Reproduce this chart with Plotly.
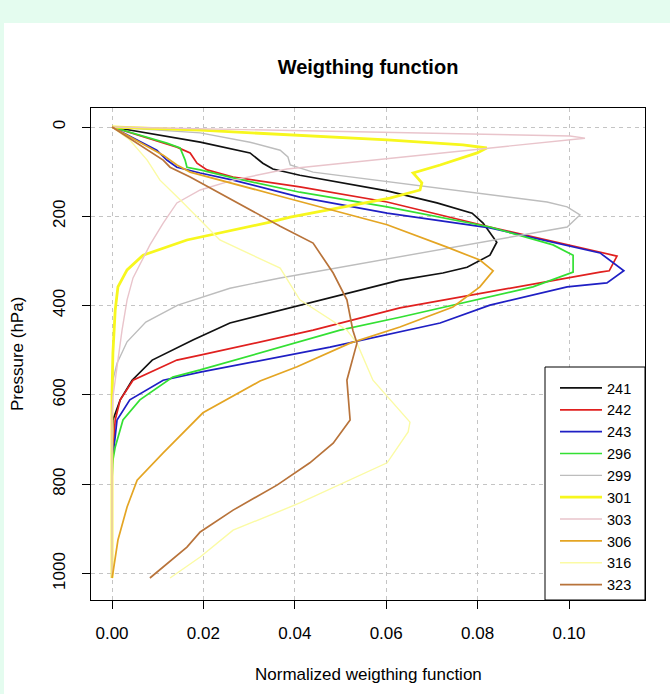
import plotly.graph_objects as go

channels = ["241", "242", "243", "296", "299", "301", "303", "306", "316", "323"]
colors = ["#111111", "#e0201f", "#1f1fc4", "#33e033", "#bdbdbd", "#f7f71e",
          "#e9c4cb", "#e4a523", "#fbfba4", "#b8733a"]
widths = [1.7, 1.7, 1.7, 1.7, 1.4, 2.8, 1.4, 1.7, 1.4, 1.7]

p_241 = [0, 34, 58, 81, 94, 108, 143, 170, 193, 215, 258, 287, 314, 327, 343, 383, 403, 439, 477, 522, 567, 611, 656, 700, 1010]
w_241 = [0, 0.0193, 0.0302, 0.0330, 0.0352, 0.0411, 0.0602, 0.0711, 0.0788, 0.0812, 0.0842, 0.0827, 0.0777, 0.0724, 0.0630, 0.0477, 0.0396, 0.0258, 0.0177, 0.0088, 0.0044, 0.0018, 0.0002, 0, 0]

p_242 = [0, 45, 58, 81, 96, 112, 134, 168, 224, 280, 289, 322, 325, 405, 455, 511, 522, 567, 611, 656, 717, 760, 1010]
w_242 = [0, 0.0142, 0.0171, 0.0186, 0.0208, 0.0265, 0.0411, 0.0602, 0.0827, 0.1068, 0.1105, 0.1088, 0.1068, 0.0630, 0.0440, 0.0193, 0.0142, 0.0046, 0.0018, 0.0007, 0.0002, 0, 0]

p_243 = [0, 52, 74, 90, 103, 119, 157, 193, 226, 282, 322, 349, 358, 399, 439, 459, 493, 549, 567, 611, 656, 694, 750, 1010]
w_243 = [0, 0.0098, 0.0120, 0.0142, 0.0193, 0.0265, 0.0411, 0.0602, 0.0827, 0.1068, 0.1120, 0.1083, 0.0996, 0.0827, 0.0718, 0.0630, 0.0477, 0.0193, 0.0112, 0.0039, 0.0011, 0.0007, 0, 0]

p_296 = [0, 36, 47, 74, 90, 96, 114, 146, 179, 224, 264, 287, 325, 336, 358, 426, 455, 544, 560, 611, 656, 717, 746, 790, 1010]
w_296 = [0, 0.0120, 0.0149, 0.0160, 0.0164, 0.0193, 0.0265, 0.0411, 0.0602, 0.0827, 0.0965, 0.1009, 0.1009, 0.0980, 0.0921, 0.0630, 0.0499, 0.0193, 0.0133, 0.0061, 0.0024, 0.0007, 0.0002, 0, 0]

p_299 = [0, 13, 34, 52, 67, 85, 101, 168, 179, 197, 224, 291, 338, 361, 399, 437, 481, 529, 567, 620, 1010]
w_299 = [0, 0.0193, 0.0302, 0.0368, 0.0385, 0.0390, 0.0440, 0.0952, 0.0996, 0.1024, 0.0996, 0.0630, 0.0368, 0.0258, 0.0144, 0.0074, 0.0033, 0.0011, 0.0002, 0, 0]

p_301 = [0, 7, 29, 40, 47, 58, 85, 103, 125, 141, 159, 202, 213, 253, 287, 320, 358, 410, 506, 600, 1010]
w_301 = [0, 0.0193, 0.0602, 0.0768, 0.0820, 0.0799, 0.0718, 0.0659, 0.0678, 0.0674, 0.0608, 0.0390, 0.0346, 0.0164, 0.0068, 0.0033, 0.0013, 0.0007, 0.0002, 0, 0]

p_303 = [0, 7, 20, 25, 49, 90, 94, 119, 141, 170, 215, 264, 338, 387, 455, 522, 605, 650, 1010]
w_303 = [0, 0.0368, 0.1002, 0.1035, 0.0805, 0.0411, 0.0383, 0.0265, 0.0193, 0.0142, 0.0112, 0.0083, 0.0046, 0.0033, 0.0022, 0.0013, 0.0002, 0, 0]

p_306 = [0, 63, 85, 101, 155, 219, 269, 298, 322, 358, 403, 448, 484, 537, 569, 640, 730, 791, 851, 925, 999, 1010]
w_306 = [0, 0.0112, 0.0142, 0.0171, 0.0368, 0.0602, 0.0733, 0.0805, 0.0834, 0.0805, 0.0746, 0.0630, 0.0521, 0.0405, 0.0324, 0.0199, 0.0112, 0.0055, 0.0033, 0.0013, 0.0002, 0]

p_316 = [0, 29, 74, 119, 163, 253, 316, 387, 455, 484, 567, 661, 683, 752, 842, 903, 963, 1010]
w_316 = [0, 0.0039, 0.0077, 0.0105, 0.0149, 0.0236, 0.0368, 0.0411, 0.0514, 0.0536, 0.0571, 0.0652, 0.0648, 0.0602, 0.0411, 0.0265, 0.0193, 0.0127]

p_323 = [0, 74, 90, 112, 222, 260, 327, 387, 455, 484, 567, 656, 708, 752, 802, 858, 907, 941, 1010]
w_323 = [0, 0.0112, 0.0127, 0.0171, 0.0368, 0.0440, 0.0484, 0.0514, 0.0527, 0.0536, 0.0514, 0.0521, 0.0484, 0.0433, 0.0361, 0.0265, 0.0193, 0.0164, 0.0083]

pressures = [p_241, p_242, p_243, p_296, p_299, p_301, p_303, p_306, p_316, p_323]
weights = [w_241, w_242, w_243, w_296, w_299, w_301, w_303, w_306, w_316, w_323]

x_ticks = [0.0, 0.02, 0.04, 0.06, 0.08, 0.10]
x_tick_labels = ["0.00", "0.02", "0.04", "0.06", "0.08", "0.10"]
y_ticks = [0, 200, 400, 600, 800, 1000]
y_tick_labels = ["0", "200", "400", "600", "800", "1000"]

FONT = "Liberation Sans, Arial, Helvetica, sans-serif"
W, H = 670, 694
L, R, T, B = 91, 25, 108, 94
PW, PH = W - L - R, H - T - B


def px_x(x):
    return (x - L) / PW


def px_y(y):
    return (H - B - y) / PH


fig = go.Figure()
for name, col, lw, p, w in zip(channels, colors, widths, pressures, weights):
    fig.add_trace(go.Scatter(x=w, y=p, mode="lines", name=name,
                             line=dict(color=col, width=lw)))

fig.update_layout(
    width=W, height=H,
    margin=dict(l=L, r=R, t=T, b=B, pad=0),
    paper_bgcolor="#e4fcef",
    plot_bgcolor="white",
    font=dict(family=FONT, size=17, color="#000"),
    title=dict(text="<b>Weigthing function</b>", x=px_x(368), xref="paper",
               xanchor="center", y=1 - 67 / H, yanchor="middle",
               font=dict(size=20, family=FONT)),
    showlegend=True,
    legend=dict(x=px_x(555), xanchor="left", y=px_y(372), yanchor="top",
                bgcolor="rgba(0,0,0,0)", borderwidth=0, itemwidth=42,
                font=dict(size=14.5, family=FONT)),
    shapes=[
        dict(type="rect", xref="paper", yref="paper", layer="below",
             x0=px_x(4), x1=px_x(W + 5), y0=px_y(H + 5), y1=px_y(23),
             fillcolor="white", line=dict(width=0)),
        dict(type="rect", xref="paper", yref="paper", layer="above",
             x0=px_x(545), x1=1, y0=0, y1=px_y(367),
             fillcolor="white", line=dict(color="black", width=1)),
    ],
    annotations=[
        dict(text="Normalized weigthing function", xref="paper", yref="paper",
             x=px_x(368), y=px_y(674), xanchor="center", yanchor="middle",
             showarrow=False, font=dict(size=17, family=FONT)),
        dict(text="Pressure (hPa)", xref="paper", yref="paper",
             x=px_x(17), y=0.5, xanchor="center", yanchor="middle", textangle=-90,
             showarrow=False, font=dict(size=17, family=FONT)),
    ],
)

fig.update_xaxes(range=[-0.004595, 0.11663], tickvals=x_ticks, ticktext=x_tick_labels,
                 ticks="outside", ticklen=8, tickcolor="black", tickwidth=1,
                 ticklabelstandoff=10,
                 showline=True, linecolor="black", linewidth=1, mirror=True,
                 showgrid=True, gridcolor="#c4c4c4", griddash="4px,4px", gridwidth=1,
                 zeroline=False, tickfont=dict(size=17))
fig.update_yaxes(range=[1059.3, -42.6], tickvals=y_ticks, ticktext=y_tick_labels,
                 ticks="outside", ticklen=8, tickcolor="black", tickwidth=1,
                 tickangle=-90, ticklabelstandoff=10,
                 showline=True, linecolor="black", linewidth=1, mirror=True,
                 showgrid=True, gridcolor="#c4c4c4", griddash="4px,4px", gridwidth=1,
                 zeroline=False, tickfont=dict(size=17))

fig.write_html("out.html")
